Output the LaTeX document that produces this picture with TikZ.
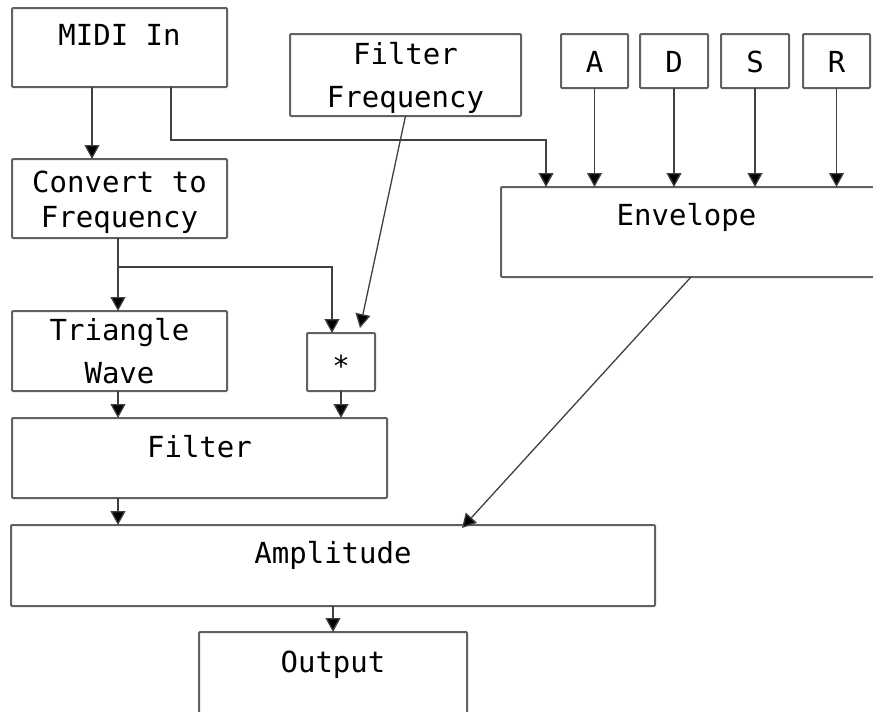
\documentclass[tikz,border=0pt]{standalone}
\usepackage{fontspec}
\setmonofont{DejaVu Sans Mono}
\usetikzlibrary{arrows.meta,calc}
\begin{document}
\begin{tikzpicture}[x=1pt,y=-1pt,
  box/.style={draw=black!62, line width=2pt, rounded corners=1pt, anchor=north west, inner sep=0pt, outer sep=0pt},
  txt/.style={font=\ttfamily\fontsize{29}{35}\selectfont, anchor=base, inner sep=0pt, text=black},
  arr/.style={draw=black!75, line width=1.3pt, -{Triangle[width=15pt,length=14pt,fill=black]}},
  thin/.style={draw=black!75, line width=1.3pt}]
\useasboundingbox (0,0) rectangle (873,712);
\clip (0,0) rectangle (873,712);
% boxes
\node[box, minimum width=215pt, minimum height=79pt] (midi) at (12,8) {};
\node[box, minimum width=215pt, minimum height=79pt] (convert) at (12,159) {};
\node[box, minimum width=231pt, minimum height=82pt] (ff) at (290,34) {};
\node[box, minimum width=67pt, minimum height=54pt] (a) at (561,34) {};
\node[box, minimum width=68pt, minimum height=54pt] (d) at (640,34) {};
\node[box, minimum width=68pt, minimum height=54pt] (s) at (721,34) {};
\node[box, minimum width=67pt, minimum height=54pt] (r) at (803,34) {};
\node[box, minimum width=399pt, minimum height=90pt] (env) at (501,187) {};
\node[box, minimum width=215pt, minimum height=80pt] (tri) at (12,311) {};
\node[box, minimum width=68pt, minimum height=58pt] (star) at (307,333) {};
\node[box, minimum width=375pt, minimum height=80pt] (filter) at (12,418) {};
\node[box, minimum width=644pt, minimum height=81pt] (amp) at (11,525) {};
\node[box, minimum width=268pt, minimum height=98pt] (output) at (199,632) {};
% texts
\node[txt] (midi-t) at ($(midi.north)+(0,37)$) {MIDI In};
\node[txt] (convert-t1) at ($(convert.north)+(0,33)$) {Convert to};
\node[txt] (convert-t2) at ($(convert.north)+(0,68)$) {Frequency};
\node[txt] (ff-t1) at ($(ff.north)+(0,30)$) {Filter};
\node[txt] (ff-t2) at ($(ff.north)+(0,73)$) {Frequency};
\node[txt] (a-t) at ($(a.north)+(0,38)$) {A};
\node[txt] (d-t) at ($(d.north)+(0,38)$) {D};
\node[txt] (s-t) at ($(s.north)+(0,38)$) {S};
\node[txt] (r-t) at ($(r.north)+(0,38)$) {R};
\node[txt] (env-t) at ($(env.north west)+(185.5,38)$) {Envelope};
\node[txt] (tri-t1) at ($(tri.north)+(0,29)$) {Triangle};
\node[txt] (tri-t2) at ($(tri.north)+(0,72)$) {Wave};
\node[txt] (star-t) at ($(star.center)+(0,14)$) {*};
\node[txt] (filter-t) at ($(filter.north)+(0,39)$) {Filter};
\node[txt] (amp-t) at ($(amp.north)+(0,38)$) {Amplitude};
\node[txt] (output-t) at ($(output.north)+(0,40)$) {Output};
% connectors
\draw[arr] ([xshift=-27.5pt]midi.south) -- ([xshift=-27.5pt]convert.north);
\draw[arr] ([xshift=51.5pt]midi.south) -- ++(0,53) -| ([xshift=45pt]env.north west);
\draw[arr] (a.south) -- (a.south |- env.north);
\draw[arr] (d.south) -- (d.south |- env.north);
\draw[arr] (s.south) -- (s.south |- env.north);
\draw[arr] (r.south) -- (r.south |- env.north);
\draw[arr] (ff.south) -- ([xshift=19pt,yshift=5pt]star.north);
\draw[arr] ([xshift=-1.5pt]convert.south) -- ([xshift=-1.5pt]tri.north);
\coordinate (br) at ($(convert.south)+(-1.5,29)$);
\draw[arr] (br) -| ([xshift=-9pt]star.north);
\draw[arr] ([xshift=-1.5pt]tri.south) -- ([xshift=-1.5pt]tri.south |- filter.north);
\draw[arr] (star.south) -- (star.south |- filter.north);
\draw[arr] ([xshift=106pt]filter.south west) -- ([xshift=106pt]filter.south west |- amp.north);
\draw[arr] ([xshift=190pt]env.south west) -- ([xshift=451pt,yshift=-3pt]amp.north west);
\draw[arr] (amp.south) -- (output.north);
\end{tikzpicture}
\end{document}
